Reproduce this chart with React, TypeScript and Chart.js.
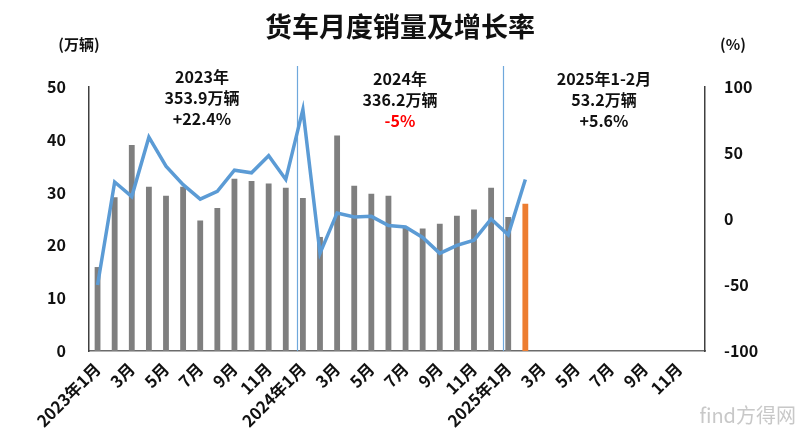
import { useEffect, useRef } from "react";
import { Chart, registerables } from "chart.js";

Chart.register(...registerables);

const categories = [
  "2023年1月", "2023年2月", "2023年3月", "2023年4月", "2023年5月", "2023年6月",
  "2023年7月", "2023年8月", "2023年9月", "2023年10月", "2023年11月", "2023年12月",
  "2024年1月", "2024年2月", "2024年3月", "2024年4月", "2024年5月", "2024年6月",
  "2024年7月", "2024年8月", "2024年9月", "2024年10月", "2024年11月", "2024年12月",
  "2025年1月", "2025年2月", "2025年3月", "2025年4月", "2025年5月", "2025年6月",
  "2025年7月", "2025年8月", "2025年9月", "2025年10月", "2025年11月", "2025年12月",
];

const tickLabels = [
  "2023年1月", "", "3月", "", "5月", "", "7月", "", "9月", "", "11月", "",
  "2024年1月", "", "3月", "", "5月", "", "7月", "", "9月", "", "11月", "",
  "2025年1月", "", "3月", "", "5月", "", "7月", "", "9月", "", "11月", "",
];

// 销量 (万辆)
const salesValues = [
  15.9, 29.1, 39.0, 31.1, 29.4, 31.1, 24.7, 27.1, 32.6, 32.2, 31.7, 30.9,
  29.0, 21.6, 40.8, 31.3, 29.8, 29.4, 23.5, 23.2, 24.1, 25.6, 26.8, 30.9,
  25.4, 27.9, null, null, null, null, null, null, null, null, null, null,
];

// 增长率 (%)
const growthValues = [
  -50, 28, 17, 62, 40, 26, 15, 21, 37, 35, 48, 30,
  83, -26, 4.6, 1.5, 2, -5, -6, -14, -26, -20, -16, 0,
  -12, 30, null, null, null, null, null, null, null, null, null, null,
];

const leftTicks = [0, 10, 20, 30, 40, 50];
const rightTicks = [-100, -50, 0, 50, 100];

const separatorIndexes = [12, 24];

const annotations = [
  { lines: ["2023年", "353.9万辆", "+22.4%"], colors: ["#111", "#111", "#111"] },
  { lines: ["2024年", "336.2万辆", "-5%"], colors: ["#111", "#111", "#ff0000"] },
  { lines: ["2025年1-2月", "53.2万辆", "+5.6%"], colors: ["#111", "#111", "#111"] },
];

const FONT = '"Noto Sans CJK SC", "Noto Sans", sans-serif';
const GRAY = "#7f7f7f";
const ORANGE = "#ed7d31";
const BLUE = "#5b9bd5";

const lastIndex = salesValues.reduce((acc: number, v, i) => (v !== null ? i : acc), 0);

const overlayPlugin = {
  id: "overlay",
  beforeDatasetsDraw(chart: any) {
    const ctx = chart.ctx;
    const x = chart.scales.x;
    const area = chart.chartArea;
    ctx.save();
    ctx.strokeStyle = "#6fa8dc";
    ctx.lineWidth = 1.2;
    for (const idx of separatorIndexes) {
      const a = x.getPixelForValue(idx - 1);
      const b = x.getPixelForValue(idx);
      const px = Math.round((a + b) / 2 + (b - a) * 0.17) + 0.5;
      ctx.beginPath();
      ctx.moveTo(px, 66);
      ctx.lineTo(px, area.bottom);
      ctx.stroke();
    }
    ctx.restore();
  },
  afterDraw(chart: any) {
    const ctx = chart.ctx;
    ctx.save();
    ctx.textAlign = "center";
    ctx.textBaseline = "middle";
    ctx.fillStyle = "#111";
    ctx.font = `bold 27px ${FONT}`;
    ctx.fillText("货车月度销量及增长率", 400, 27);

    ctx.font = `bold 15px ${FONT}`;
    ctx.fillText("(万辆)", 79, 44);
    ctx.fillText("(%)", 733, 44);

    const centers = [202, 400, 604];
    const tops = [77, 79, 79];
    annotations.forEach((a, i) => {
      a.lines.forEach((line, j) => {
        ctx.font = `bold 16px ${FONT}`;
        ctx.fillStyle = a.colors[j];
        ctx.fillText(line, centers[i], tops[i] + j * 21);
      });
    });

    ctx.font = `20px ${FONT}`;
    ctx.fillStyle = "#c8c8c8";
    ctx.textAlign = "right";
    ctx.fillText("find方得网", 796, 415);
    ctx.restore();
  },
};

export default function App() {
  const canvasRef = useRef<HTMLCanvasElement | null>(null);

  useEffect(() => {
    document.body.style.margin = "0";
    const canvas = canvasRef.current;
    if (!canvas) return;
    const chart = new Chart(canvas, {
      type: "bar",
      data: {
        labels: categories,
        datasets: [
          {
            type: "line",
            label: "增长率",
            data: growthValues,
            yAxisID: "y1",
            borderColor: BLUE,
            backgroundColor: BLUE,
            borderWidth: 3.5,
            pointRadius: 0,
            tension: 0,
            order: 0,
            spanGaps: false,
          } as any,
          {
            type: "bar",
            label: "销量",
            data: salesValues,
            yAxisID: "y",
            backgroundColor: salesValues.map((_, i) => (i === lastIndex ? ORANGE : GRAY)),
            barPercentage: 0.34,
            categoryPercentage: 1,
            order: 1,
          } as any,
        ],
      },
      options: {
        animation: false,
        responsive: true,
        maintainAspectRatio: false,
        layout: { padding: { top: 87, left: 0, right: 0, bottom: 0 } },
        plugins: {
          legend: { display: false },
          tooltip: { enabled: false },
          title: { display: false },
        },
        scales: {
          x: {
            grid: { display: false, drawTicks: false },
            border: { display: true, color: "#6b6b6b", width: 1.5 },
            ticks: {
              autoSkip: false,
              maxRotation: 45,
              minRotation: 45,
              padding: 8,
              color: "#111",
              font: { family: FONT, size: 16.5, weight: "bold" },
              callback: (_v: any, i: number) => tickLabels[i],
            },
            afterFit: (s: any) => {
              s.height = 88;
            },
          },
          y: {
            position: "left",
            min: 0,
            max: 50,
            grid: { display: false, drawTicks: false },
            border: { display: true, color: "#404040", width: 1.5 },
            ticks: {
              stepSize: 10,
              padding: 23,
              color: "#111",
              font: { family: FONT, size: 16, weight: "bold" },
              callback: (v: any) => (leftTicks.includes(v) ? String(v) : ""),
            },
            afterFit: (s: any) => {
              s.width = 89;
            },
          },
          y1: {
            position: "right",
            min: -100,
            max: 100,
            grid: { display: false, drawTicks: false },
            border: { display: true, color: "#404040", width: 1.5 },
            ticks: {
              stepSize: 50,
              padding: 19,
              color: "#111",
              font: { family: FONT, size: 16, weight: "bold" },
              callback: (v: any) => (rightTicks.includes(v) ? String(v) : ""),
            },
            afterFit: (s: any) => {
              s.width = 95;
            },
          },
        },
      },
      plugins: [overlayPlugin],
    });
    return () => chart.destroy();
  }, []);

  return (
    <div style={{ position: "relative", width: "800px", height: "439px", background: "#fff" }}>
      <canvas ref={canvasRef} />
    </div>
  );
}
